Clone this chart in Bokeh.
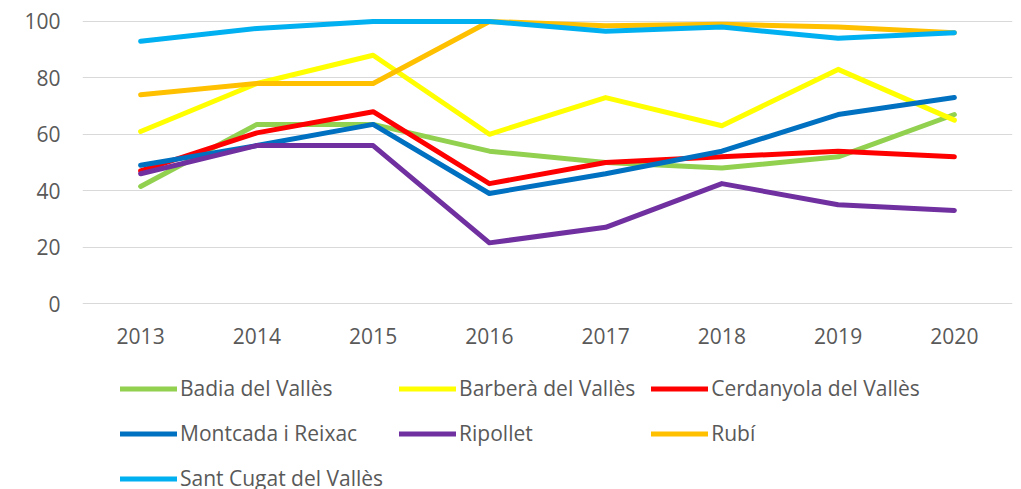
from bokeh.plotting import figure
from bokeh.models import Legend, LegendItem, FactorRange, Range1d, FixedTicker
from bokeh.layouts import column
from bokeh.embed import file_html
from bokeh.resources import INLINE

years = ["2013", "2014", "2015", "2016", "2017", "2018", "2019", "2020"]

badia = [41.5, 63.5, 63.5, 54, 50, 48, 52, 67]
barbera = [61, 78, 88, 60, 73, 63, 83, 65]
cerdanyola = [47, 60.5, 68, 42.5, 50, 52, 54, 52]
montcada = [49, 56, 63.5, 39, 46, 54, 67, 73]
ripollet = [46, 56, 56, 21.5, 27, 42.5, 35, 33]
rubi = [74, 78, 78, 100, 98.5, 99, 98, 96]
sant_cugat = [93, 97.5, 100, 100, 96.5, 98, 94, 96]

series_names = ["Badia del Vallès", "Barberà del Vallès", "Cerdanyola del Vallès",
                "Montcada i Reixac", "Ripollet", "Rubí", "Sant Cugat del Vallès"]
series_values = [badia, barbera, cerdanyola, montcada, ripollet, rubi, sant_cugat]
series_colors = ["#92D050", "#FFFF00", "#FF0000", "#0070C0", "#7030A0", "#FFC000", "#00B0F0"]

y_ticks = [0, 20, 40, 60, 80, 100]

FONT = "Open Sans"
TXT = "#595959"

# ---- main chart ----
p = figure(x_range=FactorRange(*years, range_padding=0),
           y_range=Range1d(-0.35, 102.1),
           frame_width=930, frame_height=289,
           min_border_left=82, min_border_right=9, min_border_top=15, min_border_bottom=52,
           output_backend="svg", toolbar_location=None)
p.outline_line_color = None
p.background_fill_color = "white"
p.border_fill_color = "white"

p.xgrid.grid_line_color = None
p.ygrid.grid_line_color = "#D9D9D9"
p.ygrid.grid_line_width = 1
p.yaxis.ticker = FixedTicker(ticks=y_ticks)

for ax in (p.xaxis[0], p.yaxis[0]):
    ax.axis_line_color = None
    ax.major_tick_line_color = None
    ax.minor_tick_line_color = None
    ax.major_tick_out = 0
    ax.major_tick_in = 0
    ax.major_label_text_font = FONT
    ax.major_label_text_font_size = "21px"
    ax.major_label_text_color = TXT
p.yaxis.major_label_standoff = 22
p.xaxis.major_label_standoff = 23

for name, vals, col in zip(series_names, series_values, series_colors):
    p.line(years, vals, line_color=col, line_width=5, line_cap="round", line_join="round")

# ---- legend strip below the chart ----
# the strip's y range lies below every value, so its series lines stay out of view
leg = figure(width=1021, height=133, x_range=Range1d(0, 1), y_range=Range1d(-2, -1),
             min_border_left=0, min_border_right=0, min_border_top=0, min_border_bottom=0,
             x_axis_location=None, y_axis_location=None,
             output_backend="svg", toolbar_location=None)
leg.outline_line_color = None
leg.xgrid.grid_line_color = None
leg.ygrid.grid_line_color = None
leg.background_fill_color = "white"
leg.border_fill_color = "white"

items = []
for name, vals, col in zip(series_names, series_values, series_colors):
    r = leg.line(x=list(range(len(years))), y=vals, line_color=col, line_width=5,
                 line_cap="round")
    items.append(LegendItem(label=name, renderers=[r]))

legend = Legend(items=items, orientation="horizontal", ncols=3,
                location=(38, -3.5),
                label_text_font=FONT, label_text_font_size="21px", label_text_color=TXT,
                glyph_width=57, glyph_height=29, label_height=29, label_standoff=3,
                spacing=16, padding=0, margin=0,
                border_line_alpha=0, background_fill_alpha=0)
leg.add_layout(legend, "center")

layout = column(p, leg, spacing=0)
open("out.html", "w").write(file_html(layout, INLINE))
